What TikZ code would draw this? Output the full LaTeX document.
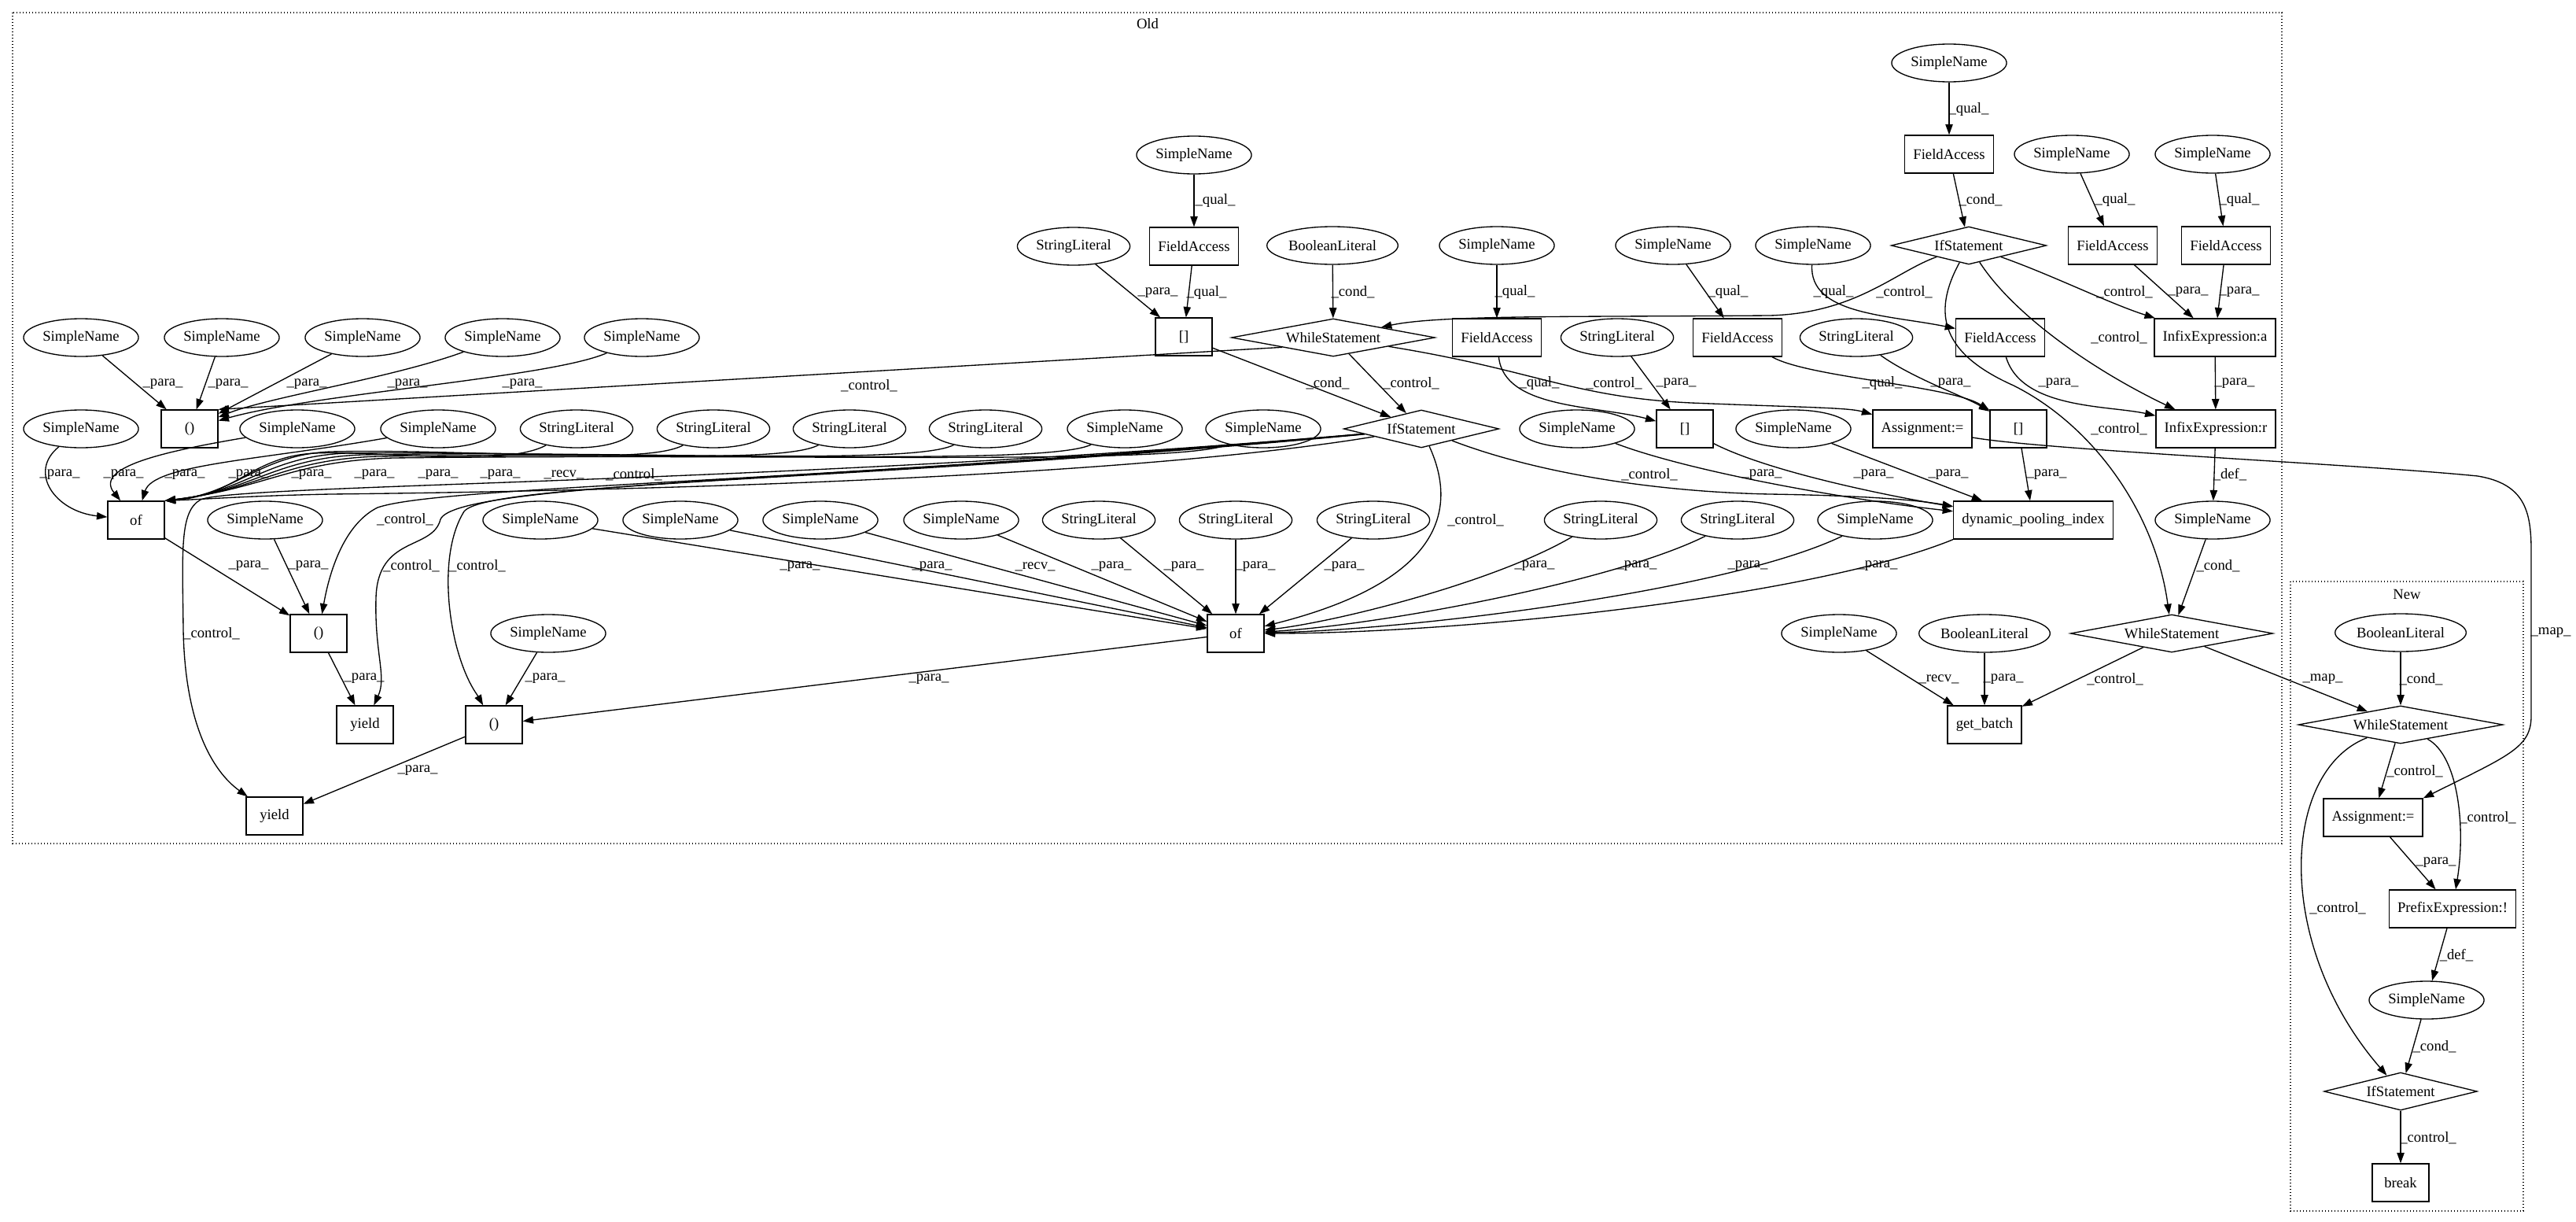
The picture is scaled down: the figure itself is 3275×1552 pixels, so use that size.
\documentclass[tikz,border=0pt]{standalone}
\usepackage{fontspec}
\setmainfont{Liberation Serif}
\usetikzlibrary{shapes.geometric,arrows.meta}
\newcommand{\lPara}{\_para\_}
\newcommand{\lQual}{\_qual\_}
\newcommand{\lCtrl}{\_control\_}
\newcommand{\lCond}{\_cond\_}
\newcommand{\lRecv}{\_recv\_}
\newcommand{\lDef}{\_def\_}
\newcommand{\lMap}{\_map\_}
\newcommand{\elab}[3]{\node[lbl] (#1) at (#2) {#3};}
\begin{document}
\begin{tikzpicture}[x=0.75pt,y=-0.75pt,font=\fontsize{14pt}{16pt}\selectfont,
  ell/.style={draw, ellipse, line width=1pt, inner xsep=2.2pt, minimum height=36pt},
  bx/.style={draw, rectangle, line width=1pt, minimum width=54pt, minimum height=36pt, inner xsep=8pt},
  dia/.style={draw, diamond, line width=1pt, aspect=4, minimum height=36pt, minimum width=#1, inner sep=0pt},
  lbl/.style={inner sep=0pt},
  e/.style={draw, line width=1pt, -{Triangle[length=10pt,width=7pt]}},
  clus/.style={draw, dotted, line width=1pt}]
\useasboundingbox (0,0) rectangle (3275,1552);
% clusters
\draw[clus] (16,16) rectangle (2901,1072);
\node (oldlbl) at (1459,30) {Old};
\draw[clus] (2912,739) rectangle (3208,1539);
\node (newlbl) at (3060,755) {New};
% ---- Old nodes
\node[ell] (snT) at (2478,80) {SimpleName};
\node[ell] (snB1) at (1518,197) {SimpleName};
\node[bx] (faB) at (2478,196) {FieldAccess};
\node[ell] (snB2) at (2634,196) {SimpleName};
\node[ell] (snB3) at (2813,196) {SimpleName};
\node[ell] (slC1) at (1365,313) {StringLiteral};
\node[bx] (faC1) at (1518,313) {FieldAccess};
\node[ell] (blC) at (1694,312) {BooleanLiteral};
\node[ell] (snC1) at (1903,312) {SimpleName};
\node[ell] (snC2) at (2127,312) {SimpleName};
\node[ell] (snC3) at (2305,312) {SimpleName};
\node[dia=148pt] (ifC) at (2503,312) {IfStatement};
\node[bx] (faC2) at (2686,312) {FieldAccess};
\node[bx] (faC3) at (2830,312) {FieldAccess};
\node[ell] (snD1) at (103,429) {SimpleName};
\node[ell] (snD2) at (282,429) {SimpleName};
\node[ell] (snD3) at (461,429) {SimpleName};
\node[ell] (snD4) at (639,429) {SimpleName};
\node[ell] (snD5) at (816,429) {SimpleName};
\node[bx] (brD) at (1505,428) {[]};
\node[dia=194pt] (wsD) at (1695,429) {WhileStatement};
\node[bx] (faD1) at (1903,429) {FieldAccess};
\node[ell] (slD1) at (2056,429) {StringLiteral};
\node[bx] (faD2) at (2209,429) {FieldAccess};
\node[ell] (slD2) at (2360,429) {StringLiteral};
\node[bx] (faD3) at (2543,429) {FieldAccess};
\node[bx] (ixA) at (2816,429) {InfixExpression:a};
\node[ell] (snE0) at (103,545) {SimpleName};
\node[bx] (parE) at (241,545) {()};
\node[ell] (snE1) at (378,545) {SimpleName};
\node[ell] (snE2) at (557,545) {SimpleName};
\node[ell] (slE1) at (733,545) {StringLiteral};
\node[ell] (slE2) at (907,545) {StringLiteral};
\node[ell] (slE3) at (1080,545) {StringLiteral};
\node[ell] (slE4) at (1253,545) {StringLiteral};
\node[ell] (snE3) at (1430,545) {SimpleName};
\node[ell] (snE4) at (1606,545) {SimpleName};
\node[dia=148pt] (ifE) at (1807,545) {IfStatement};
\node[ell] (snE5) at (2005,545) {SimpleName};
\node[bx] (brE) at (2142,545) {[]};
\node[ell] (snE6) at (2280,545) {SimpleName};
\node[bx] (asg) at (2444,545) {Assignment:=};
\node[bx] (brE2) at (2566,545) {[]};
\node[bx] (ixR) at (2817,545) {InfixExpression:r};
\node[bx] (ofA) at (173,661) {of};
\node[ell] (snF1) at (337,661) {SimpleName};
\node[ell] (snF2) at (687,661) {SimpleName};
\node[ell] (snF3) at (865,661) {SimpleName};
\node[ell] (snF4) at (1043,661) {SimpleName};
\node[ell] (snF5) at (1222,661) {SimpleName};
\node[ell] (slF1) at (1397,661) {StringLiteral};
\node[ell] (slF2) at (1571,661) {StringLiteral};
\node[ell] (slF3) at (1746,661) {StringLiteral};
\node[ell] (slF4) at (2035,661) {StringLiteral};
\node[ell] (slF5) at (2209,661) {StringLiteral};
\node[ell] (snF6) at (2384,661) {SimpleName};
\node[bx] (dpi) at (2585,661) {dynamic\_pooling\_index};
\node[ell] (snF7) at (2813,661) {SimpleName};
\node[bx] (parG) at (405,805) {()};
\node[ell] (snG1) at (697,805) {SimpleName};
\node[bx] (ofB) at (1571,805) {of};
\node[ell] (snG2) at (2338,805) {SimpleName};
\node[ell] (blG) at (2523,805) {BooleanLiteral};
\node[dia=193pt] (wsG) at (2761,805) {WhileStatement};
\node[bx] (yieldA) at (464,921) {yield};
\node[bx] (parH) at (628,921) {()};
\node[bx] (gb) at (2523,921) {get\_batch};
\node[bx] (yieldB) at (349,1037) {yield};
% ---- New nodes
\node[ell] (nbl) at (3052,804) {BooleanLiteral};
\node[dia=195pt] (nws) at (3052,921) {WhileStatement};
\node[bx] (nasg) at (3017,1039) {Assignment:=};
\node[bx] (npre) at (3118,1155) {PrefixExpression:!};
\node[ell] (nsn) at (3085,1271) {SimpleName};
\node[dia=146pt] (nif) at (3052,1387) {IfStatement};
\node[bx] (nbrk) at (3052,1503) {break};
% ---- Old edges (top right)
\draw[e] (snT) -- (faB);
\draw[e] (faB) -- (ifC);
\draw[e] (snB2) -- (faC2);
\draw[e] (snB3) -- (faC3);
\draw[e] (snB1) -- (faC1);
\draw[e] (ifC) .. controls (2610,350) and (2680,385) .. (ixA);
\draw[e] (faC2) -- (ixA);
\draw[e] (faC3) -- (ixA);
\draw[e] (ifC) .. controls (2560,400) and (2660,470) .. (ixR);
\draw[e] (faD3) .. controls (2570,520) and (2680,515) .. (ixR);
\draw[e] (ixA) -- (ixR);
\draw[e] (ixR) -- (snF7);
\draw[e] (snF7) -- (wsG);
\draw[e] (ifC) .. controls (2455,400) and (2470,450) .. (2560,490) .. controls (2660,540) and (2740,650) .. (wsG);
\draw[e] (ifC) .. controls (2410,345) and (2360,398) .. (2250,401) .. controls (2000,403) and (1830,400) .. (wsD);
\draw[e] (snC3) .. controls (2300,400) and (2400,400) .. (faD3);
\draw[e] (snC2) -- (faD2);
\draw[e] (snC1) -- (faD1);
\draw[e] (blC) -- (wsD);
\draw[e] (slC1) -- (brD);
\draw[e] (faC1) -- (brD);
\draw[e] (brD) -- (ifE);
\draw[e] (wsD) -- (ifE);
\draw[e] (wsD) .. controls (1950,470) and (2000,505) .. (2150,512) .. controls (2300,518) and (2350,518) .. (asg);
\draw[e] (faD1) .. controls (1912,520) and (2030,515) .. (brE);
\draw[e] (slD1) -- (brE);
\draw[e] (faD2) .. controls (2300,480) and (2480,490) .. (brE2);
\draw[e] (slD2) .. controls (2430,480) and (2500,505) .. (brE2);
\draw[e] (wsD.south west) -- (parE.north east);
\draw[e] (snD1) -- (parE);
\draw[e] (snD2) -- (parE);
\draw[e] (snD3) -- (parE);
\draw[e] (snD4) .. controls (500,480) and (340,505) .. (parE);
\draw[e] (snD5) .. controls (700,480) and (400,500) .. (parE);
% dynamic_pooling_index inputs
\draw[e] (ifE) .. controls (1950,600) and (2100,625) .. (2250,628) .. controls (2380,630) and (2440,636) .. (dpi);
\draw[e] (snE5) .. controls (2150,600) and (2350,635) .. (dpi);
\draw[e] (brE) .. controls (2250,600) and (2400,630) .. (dpi);
\draw[e] (snE6) -- (dpi);
\draw[e] (brE2) -- (dpi);
% second "of"
\draw[e] (ifE) .. controls (1855,650) and (1830,740) .. (ofB);
\draw[e] (snF2) -- (ofB);
\draw[e] (snF3) -- (ofB);
\draw[e] (snF4) -- (ofB);
\draw[e] (snF5) -- (ofB);
\draw[e] (slF1) -- (ofB);
\draw[e] (slF2) -- (ofB);
\draw[e] (slF3) -- (ofB);
\draw[e] (slF4) .. controls (1900,740) and (1700,790) .. (ofB);
\draw[e] (slF5) .. controls (2050,740) and (1750,795) .. (ofB);
\draw[e] (snF6) .. controls (2200,750) and (1800,800) .. (ofB);
\draw[e] (dpi.south west) .. controls (2300,760) and (1850,805) .. (ofB);
\draw[e] (ofB) -- (parH);
\draw[e] (snG1) -- (parH);
\draw[e] (parH) -- (yieldB);
\draw[e] (parG) -- (yieldA);
\draw[e] (ofA) -- (parG);
\draw[e] (snF1) -- (parG);
% first "of"
\draw[e] (snE0) .. controls (35,600) and (70,650) .. (ofA);
\draw[e] (snE1) .. controls (200,575) and (120,595) .. (ofA);
\draw[e] (snE2) .. controls (330,585) and (195,590) .. (ofA);
\draw[e] (slE1) .. controls (640,595) and (480,572) .. (400,576) .. controls (320,580) and (300,630) .. (ofA.north east);
\draw[e] (slE2) .. controls (820,592) and (600,570) .. (420,574) .. controls (330,578) and (300,628) .. (ofA.north east);
\draw[e] (slE3) .. controls (990,592) and (700,572) .. (440,576) .. controls (340,580) and (310,626) .. (ofA.north east);
\draw[e] (slE4) .. controls (1160,592) and (800,572) .. (460,578) .. controls (350,582) and (320,624) .. (ofA.north east);
\draw[e] (snE3) .. controls (1330,592) and (900,574) .. (480,580) .. controls (360,584) and (330,622) .. (ofA.north east);
\draw[e] (snE4) .. controls (1500,592) and (1000,576) .. (500,582) .. controls (370,586) and (340,620) .. (ofA.north east);
% IfStatement control edges to the left
\draw[e] (ifE) .. controls (1400,612) and (700,625) .. (420,628) .. controls (320,630) and (270,634) .. (ofA.north east);
\draw[e] (ifE) .. controls (1000,615) and (300,615) .. (255,635) .. controls (228,650) and (232,700) .. (233,800) .. controls (235,920) and (270,980) .. (yieldB);
\draw[e] (ifE) .. controls (1000,615) and (560,618) .. (480,645) .. controls (440,665) and (420,720) .. (parG);
\draw[e] (ifE) .. controls (1100,610) and (580,612) .. (560,660) .. controls (550,700) and (480,680) .. (478,760) .. controls (476,830) and (492,860) .. (yieldA);
\draw[e] (ifE) .. controls (1100,612) and (620,612) .. (590,650) .. controls (565,690) and (565,760) .. (580,820) .. controls (592,865) and (605,880) .. (parH);
% get_batch
\draw[e] (wsG) -- (gb);
\draw[e] (snG2) -- (gb);
\draw[e] (blG) -- (gb);
% map edges
\draw[e] (wsG) -- (nws);
\draw[e] (asg) .. controls (2600,572) and (3000,590) .. (3150,605) .. controls (3210,615) and (3218,650) .. (3218,700) -- (3218,910) .. controls (3218,950) and (3190,960) .. (nasg.north east);
% New edges
\draw[e] (nbl) -- (nws);
\draw[e] (nws) -- (nasg);
\draw[e] (nws) .. controls (3125,960) and (3135,1050) .. (npre);
\draw[e] (nasg) -- (npre);
\draw[e] (nws) .. controls (2900,980) and (2890,1200) .. (nif);
\draw[e] (npre) -- (nsn);
\draw[e] (nsn) -- (nif);
\draw[e] (nif) -- (nbrk);
% ---- edge labels
\elab{l1}{2503,139}{\lQual}
\elab{l2}{2518,254}{\lCond}
\elab{l3}{2689,254}{\lQual}
\elab{l4}{2847,254}{\lQual}
\elab{l5}{1545,255}{\lQual}
\elab{l6}{2701,371}{\lCtrl}
\elab{l7}{2782,371}{\lPara}
\elab{l8}{2847,371}{\lPara}
\elab{l9}{2694,429}{\lCtrl}
\elab{l10}{2617,487}{\lPara}
\elab{l11}{2841,487}{\lPara}
\elab{l12}{2835,603}{\lDef}
\elab{l13}{2820,719}{\lCond}
\elab{l14}{2694,545}{\lCtrl}
\elab{l15}{2421,371}{\lCtrl}
\elab{l16}{2331,371}{\lQual}
\elab{l17}{2197,371}{\lQual}
\elab{l18}{1926,371}{\lQual}
\elab{l19}{1720,371}{\lCond}
\elab{l20}{1472,372}{\lPara}
\elab{l21}{1534,372}{\lQual}
\elab{l22}{1688,487}{\lCond}
\elab{l23}{1794,487}{\lCtrl}
\elab{l24}{2052,487}{\lCtrl}
\elab{l25}{1957,487}{\lQual}
\elab{l26}{2131,487}{\lPara}
\elab{l27}{2393,487}{\lQual}
\elab{l28}{2480,487}{\lPara}
\elab{l29}{1105,490}{\lCtrl}
\elab{l30}{207,488}{\lPara}
\elab{l31}{290,488}{\lPara}
\elab{l32}{390,488}{\lPara}
\elab{l33}{518,488}{\lPara}
\elab{l34}{664,488}{\lPara}
\elab{l35}{2097,603}{\lCtrl}
\elab{l36}{2240,603}{\lPara}
\elab{l37}{2382,603}{\lPara}
\elab{l38}{2477,603}{\lPara}
\elab{l39}{2602,603}{\lPara}
\elab{l40}{1876,661}{\lCtrl}
\elab{l41}{1017,720}{\lPara}
\elab{l42}{1185,720}{\lPara}
\elab{l43}{1316,720}{\lRecv}
\elab{l44}{1413,720}{\lPara}
\elab{l45}{1505,720}{\lPara}
\elab{l46}{1596,720}{\lPara}
\elab{l47}{1709,720}{\lPara}
\elab{l48}{1951,719}{\lPara}
\elab{l49}{2081,719}{\lPara}
\elab{l50}{2222,719}{\lPara}
\elab{l51}{2387,719}{\lPara}
\elab{l52}{1181,863}{\lPara}
\elab{l53}{693,862}{\lPara}
\elab{l54}{531,979}{\lPara}
\elab{l55}{463,862}{\lPara}
\elab{l56}{316,719}{\lPara}
\elab{l57}{392,719}{\lPara}
\elab{l58}{76,603}{\lPara}
\elab{l59}{157,603}{\lPara}
\elab{l60}{235,603}{\lPara}
\elab{l61}{316,603}{\lPara}
\elab{l62}{396,603}{\lPara}
\elab{l63}{476,603}{\lPara}
\elab{l64}{557,603}{\lPara}
\elab{l65}{636,603}{\lPara}
\elab{l66}{717,603}{\lRecv}
\elab{l67}{806,603}{\lCtrl}
\elab{l68}{269,805}{\lCtrl}
\elab{l69}{515,660}{\lCtrl}
\elab{l70}{523,719}{\lCtrl}
\elab{l71}{607,719}{\lCtrl}
\elab{l72}{2689,863}{\lCtrl}
\elab{l73}{2465,863}{\lRecv}
\elab{l74}{2547,863}{\lPara}
\elab{l75}{2953,863}{\lMap}
\elab{l76}{3243,804}{\lMap}
\elab{l77}{3078,863}{\lCond}
\elab{l78}{3070,980}{\lCtrl}
\elab{l79}{3163,1039}{\lCtrl}
\elab{l80}{3097,1096}{\lPara}
\elab{l81}{2972,1154}{\lCtrl}
\elab{l82}{3123,1214}{\lDef}
\elab{l83}{3095,1330}{\lCond}
\elab{l84}{3087,1446}{\lCtrl}
\end{tikzpicture}
\end{document}
